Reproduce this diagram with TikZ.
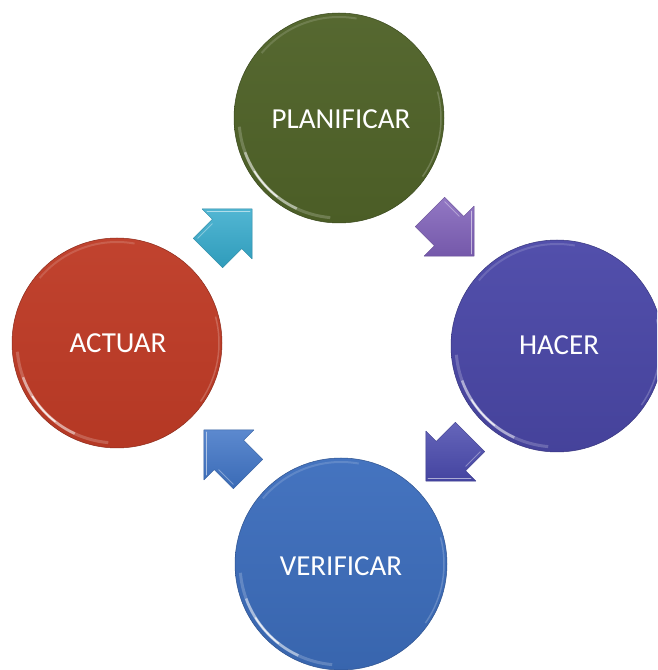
\documentclass[tikz,border=0pt]{standalone}
\usepackage{fontspec}
\setmainfont{Carlito}
\definecolor{planc}{HTML}{4F6228}
\definecolor{hacerc}{HTML}{4B48A8}
\definecolor{actc}{HTML}{BE3B26}
\definecolor{verc}{HTML}{3D6EBD}
\definecolor{arrcyan}{HTML}{33A9CB}
\definecolor{arrpurple}{HTML}{7F60B9}
\definecolor{arrindigo}{HTML}{4A4AAE}
\definecolor{arrblue}{HTML}{3F74C6}
\newcommand\glossy[2]{% node name, radius
  \draw[white, opacity=.2, line width=3, shift={(#1.center)}] (185:#2-5) arc[start angle=185, end angle=265, radius=#2-5];
  \draw[white, opacity=.45, line width=2.5, shift={(#1.center)}] (200:#2-5) arc[start angle=200, end angle=245, radius=#2-5];
  \draw[white, opacity=.75, line width=1.5, shift={(#1.center)}] (212:#2-5) arc[start angle=212, end angle=232, radius=#2-5];
  \draw[white, opacity=.15, line width=2, shift={(#1.center)}] (80:#2-4) arc[start angle=80, end angle=140, radius=#2-4];
  \draw[white, opacity=.2, line width=1.5, shift={(#1.center)}] (-35:#2-3) arc[start angle=-35, end angle=15, radius=#2-3];
}
\newcommand\blockarrow[3]{% coordinate, angle, colour
  \path[shift={(#1)}, rotate=#2, scale=1.04, top color=#3!85!white, bottom color=#3!92!black, draw=#3!80!black, line width=.4, line join=round]
    (30,0) -- (-4,34) -- (-4,20) -- (-30,20) -- (-30,-20) -- (-4,-20) -- (-4,-34) -- cycle;
  \draw[shift={(#1)}, rotate=#2, scale=1.04, white, opacity=.55, line width=1.2, line cap=round]
    (27,0) -- (-2,29);
  \draw[shift={(#1)}, rotate=#2, scale=1.04, white, opacity=.35, line width=1, line cap=round]
    (-27,17) -- (-7,17);
}
\begin{document}
\begin{tikzpicture}[x=1pt,y=1pt,
  stage/.style={circle, inner sep=0pt, text=white, font=\fontsize{29}{33}\selectfont},
]
\useasboundingbox (0,0) rectangle (657,670);
\fill[white] (0,0) rectangle (657,670);
\clip (0,0) rectangle (657,670);

\node[stage, minimum size=210pt, top color=planc!96!white, bottom color=planc!95!black, draw=planc!75!black, line width=.5] (plan) at (339,552) {};
\node[stage, minimum size=212pt, top color=hacerc!96!white, bottom color=hacerc!92!black, draw=hacerc!75!black, line width=.5] (hacer) at (557,324) {};
\node[stage, minimum size=210pt, top color=actc!96!white, bottom color=actc!95!black, draw=actc!75!black, line width=.5] (act) at (117,327) {};
\node[stage, minimum size=212pt, top color=verc!96!white, bottom color=verc!92!black, draw=verc!75!black, line width=.5] (ver) at (341,106) {};

\glossy{plan}{105}
\glossy{hacer}{106}
\glossy{act}{105}
\glossy{ver}{106}

\node[stage] (tplan) at (341,551) {PLANIFICAR};
\node[stage] (thacer) at (559,325) {HACER};
\node[stage] (tact) at (118,327) {ACTUAR};
\node[stage] (tver) at (341,104) {VERIFICAR};

\coordinate (a1) at (230,439);
\coordinate (a2) at (452,436);
\coordinate (a3) at (448,211);
\coordinate (a4) at (226,218);

\blockarrow{a1}{45}{arrcyan}
\blockarrow{a2}{-45}{arrpurple}
\blockarrow{a3}{-135}{arrindigo}
\blockarrow{a4}{135}{arrblue}
\end{tikzpicture}
\end{document}
